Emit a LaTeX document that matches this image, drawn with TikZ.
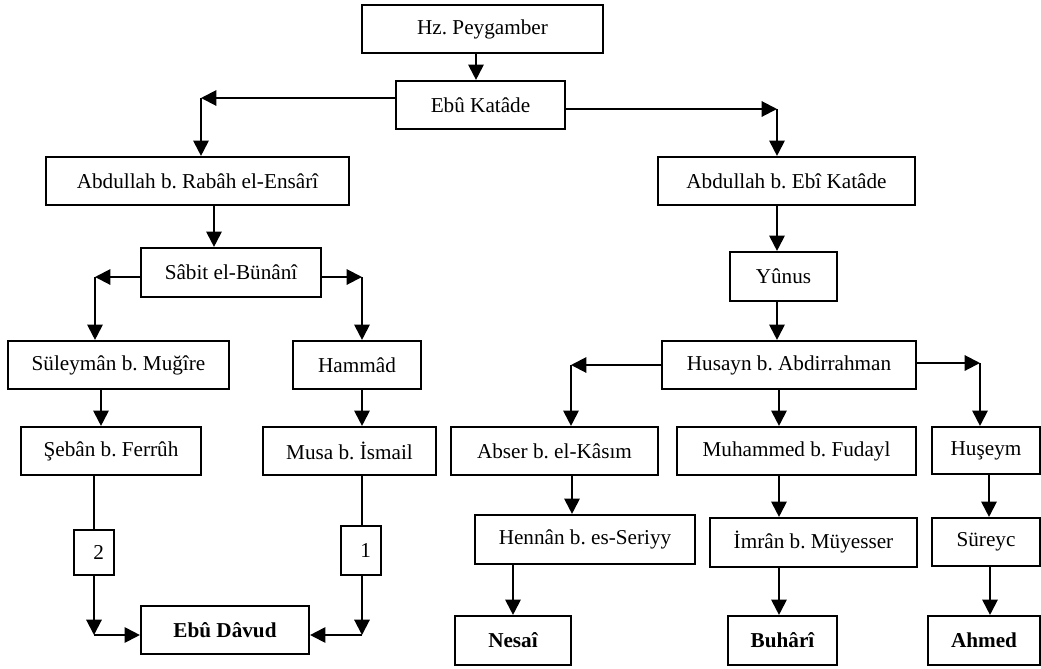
\documentclass[tikz,border=0pt]{standalone}
\usepackage{fontspec}
\setmainfont{Liberation Serif}
\usetikzlibrary{arrows.meta,calc}
\frenchspacing
\tikzset{
  box/.style={draw, line width=1.6pt, inner sep=0pt, font=\fontsize{15.9}{19}\selectfont},
  bbox/.style={box, font=\fontsize{15.9}{19}\selectfont\bfseries},
  arr/.style={line width=1.5pt, -{Triangle[length=11.5pt,width=11.5pt]}},
  ln/.style={line width=1.5pt}
}
\begin{document}
\frenchspacing
\begin{tikzpicture}[x=0.75pt,y=-0.75pt]
\useasboundingbox (0,0) rectangle (1041,668);
% boxes
\node[box, minimum width=241*0.75pt, minimum height=48*0.75pt] (hz) at (482.5,29) {Hz. Peygamber};
\node[box, minimum width=169*0.75pt, minimum height=48*0.75pt] (ebu) at (480.5,105) {Ebû Katâde};
\node[box, minimum width=303*0.75pt, minimum height=48*0.75pt] (abr) at (197.5,181) {Abdullah b. Rabâh el-Ensârî};
\node[box, minimum width=257*0.75pt, minimum height=48*0.75pt] (abk) at (786.5,181) {Abdullah b. Ebî Katâde};
\node[box, minimum width=180*0.75pt, minimum height=49*0.75pt] (sab) at (231,272.5) {Sâbit el-Bünânî};
\node[box, minimum width=107*0.75pt, minimum height=49*0.75pt] (yun) at (783.5,276.5) {Yûnus};
\node[box, minimum width=221*0.75pt, minimum height=48*0.75pt] (sul) at (118.5,365) {Süleymân b. Muğîre};
\node[box, minimum width=128*0.75pt, minimum height=48*0.75pt] (ham) at (357,365) {Hammâd};
\node[box, minimum width=254*0.75pt, minimum height=48*0.75pt] (hus) at (789,365) {Husayn b. Abdirrahman};
\node[box, minimum width=180*0.75pt, minimum height=48*0.75pt] (seb) at (111,451) {Şebân b. Ferrûh};
\node[box, minimum width=173*0.75pt, minimum height=48*0.75pt] (mus) at (349.5,451) {Musa b. İsmail};
\node[box, minimum width=207*0.75pt, minimum height=48*0.75pt] (abs) at (554.5,451) {Abser b. el-Kâsım};
\node[box, minimum width=239*0.75pt, minimum height=48*0.75pt] (muh) at (796.5,451) {Muhammed b. Fudayl};
\node[box, minimum width=108*0.75pt, minimum height=47*0.75pt] (hsy) at (986,450.5) {Huşeym};
\node[box, minimum width=40*0.75pt, minimum height=45*0.75pt] (n2) at (94,552.5) {\hspace*{7pt}2};
\node[box, minimum width=40*0.75pt, minimum height=49*0.75pt] (n1) at (361,550.5) {\hspace*{7pt}1};
\node[box, minimum width=220*0.75pt, minimum height=49*0.75pt] (hen) at (585,539.5) {Hennân b. es-Seriyy};
\node[box, minimum width=207*0.75pt, minimum height=49*0.75pt] (imr) at (813.5,542.5) {İmrân b. Müyesser};
\node[box, minimum width=108*0.75pt, minimum height=48*0.75pt] (sur) at (986,542) {Süreyc};
\node[bbox, minimum width=168*0.75pt, minimum height=48*0.75pt] (ebd) at (225,630) {Ebû Dâvud};
\node[bbox, minimum width=116*0.75pt, minimum height=49*0.75pt] (nes) at (513,640.5) {Nesaî};
\node[bbox, minimum width=109*0.75pt, minimum height=49*0.75pt] (buh) at (782.5,640.5) {Buhârî};
\node[bbox, minimum width=112*0.75pt, minimum height=49*0.75pt] (ahm) at (984,640.5) {Ahmed};
% corner coordinates
\coordinate (cL) at (201,98);
\coordinate (cR) at (777,109);
\coordinate (sL) at (95,277);
\coordinate (sR) at (362,277);
\coordinate (hL) at (571,365);
\coordinate (hR) at (980,363);
\coordinate (d2) at (94,635);
\coordinate (d1) at (362,635);
% connectors
\draw[arr] (hz.south -| 476,0) -- (ebu.north -| 476,0);
\draw[arr] (ebu.west |- cL) -- (cL);
\draw[arr] (cL) -- (abr.north -| cL);
\draw[arr] (ebu.east |- cR) -- (cR);
\draw[arr] (cR) -- (abk.north -| cR);
\draw[arr] (abr.south -| 214,0) -- (sab.north -| 214,0);
\draw[arr] (sab.west |- sL) -- (sL);
\draw[arr] (sL) -- (sul.north -| sL);
\draw[arr] (sab.east |- sR) -- (sR);
\draw[arr] (sR) -- (ham.north -| sR);
\draw[arr] (sul.south -| 101,0) -- (seb.north -| 101,0);
\draw[arr] (ham.south -| 362,0) -- (mus.north -| 362,0);
\draw[ln] (seb.south -| n2) -- (n2.north);
\draw[arr] (n2.south) -- (d2);
\draw[arr] (d2) -- (ebd.west |- d2);
\draw[ln] (mus.south -| d1) -- (n1.north -| d1);
\draw[arr] (n1.south -| d1) -- (d1);
\draw[arr] (d1) -- (ebd.east |- d1);
\draw[arr] (abk.south -| cR) -- (yun.north -| cR);
\draw[arr] (yun.south -| cR) -- (hus.north -| cR);
\draw[arr] (hus.west |- hL) -- (hL);
\draw[arr] (hL) -- (abs.north -| hL);
\draw[arr] (hus.south -| 779,0) -- (muh.north -| 779,0);
\draw[arr] (hus.east |- hR) -- (hR);
\draw[arr] (hR) -- (hsy.north -| hR);
\draw[arr] (abs.south -| 572,0) -- (hen.north -| 572,0);
\draw[arr] (muh.south -| 779,0) -- (imr.north -| 779,0);
\draw[arr] (hsy.south -| 989,0) -- (sur.north -| 989,0);
\draw[arr] (hen.south -| nes) -- (nes.north);
\draw[arr] (imr.south -| 779,0) -- (buh.north -| 779,0);
\draw[arr] (sur.south -| 990,0) -- (ahm.north -| 990,0);
\end{tikzpicture}
\end{document}
